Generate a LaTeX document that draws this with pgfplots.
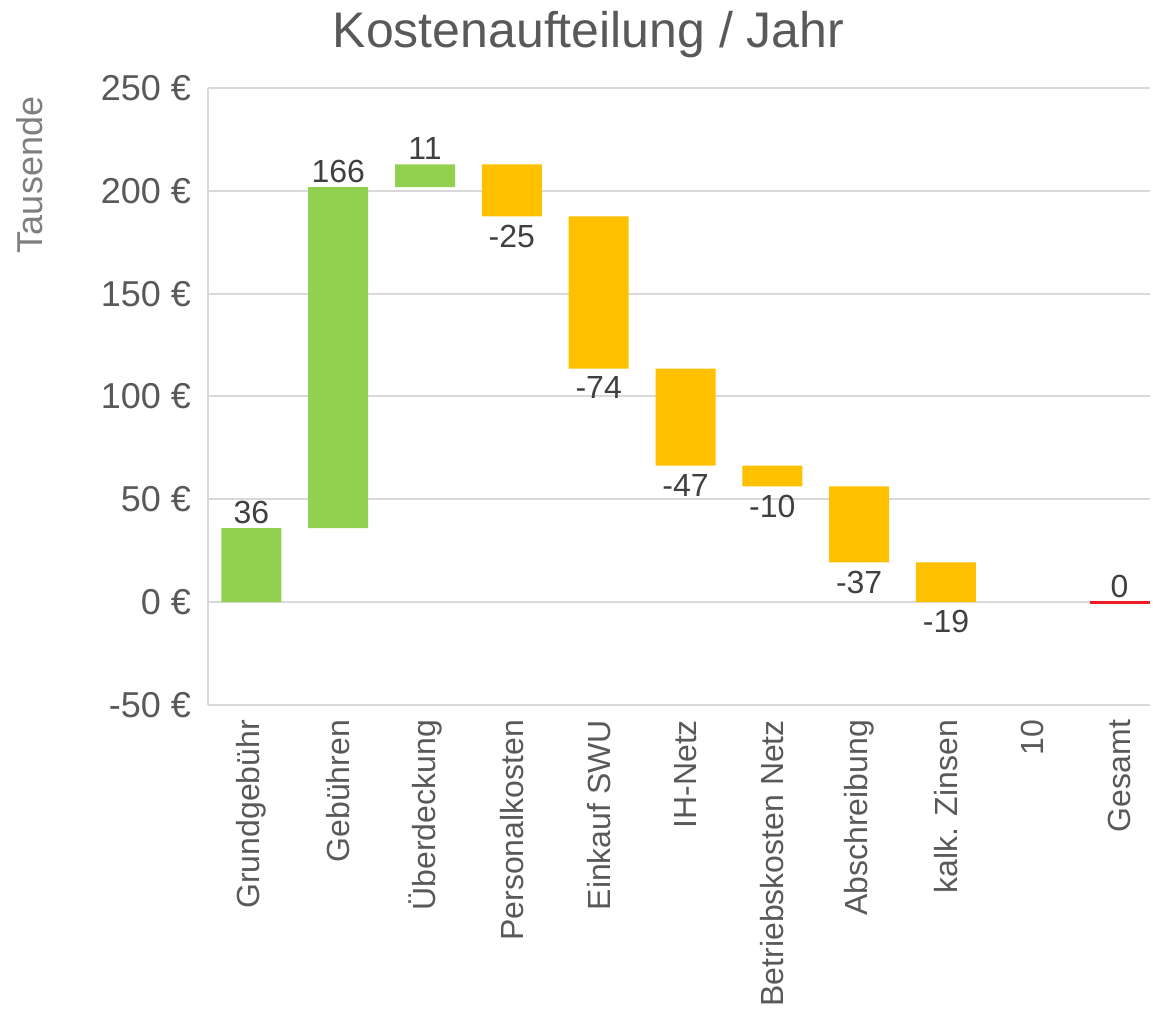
\documentclass[border=0pt]{standalone}
\usepackage{fontspec}
\setmainfont{Liberation Sans}
\usepackage{pgfplots}
\pgfplotsset{compat=1.18}
\definecolor{cgreen}{HTML}{92D050}
\definecolor{corange}{HTML}{FFC000}
\definecolor{cred}{HTML}{EE1C25}
\definecolor{txt}{HTML}{595959}
\definecolor{lbl}{HTML}{404040}
\definecolor{ylab}{HTML}{7F7F7F}
\definecolor{gridc}{HTML}{D9D9D9}
\pgfplotsset{wf/.style={width=471pt, height=308.5pt, scale only axis,
  xmin=-0.5, xmax=10.35, ymin=-50, ymax=250}}
\begin{document}
\begin{tikzpicture}
\begin{axis}[wf, name=ax,
  ybar stacked, bar width=30pt,
  axis lines=left, axis line style={draw=gridc, line width=1pt, -},
  ymajorgrids, grid style={draw=gridc, line width=1pt},
  ytick={-50,0,50,100,150,200,250},
  xtick={0,...,10},
  xticklabels={Grundgebühr, Gebühren, Überdeckung, Personalkosten, Einkauf SWU, IH-Netz, Betriebskosten Netz, Abschreibung, kalk. Zinsen, 10, Gesamt},
  x tick label style={rotate=90, anchor=east, font=\fontsize{16}{18}\selectfont, text=txt, xshift=-4pt},
  major tick length=0pt,
  /pgf/number format/assume math mode=true,
  yticklabel={\pgfmathprintnumber{\tick}~€},
  y tick label style={font=\fontsize{18}{20}\selectfont, text=txt, xshift=-5pt},
  ylabel={Tausende},
  every axis y label/.style={at={(rel axis cs:0,0.859)}, xshift=-89pt, rotate=90, anchor=center, font=\fontsize{18}{20}\selectfont, text=ylab},
  title={Kostenaufteilung / Jahr},
  every axis title/.style={at={(rel axis cs:0.404,1)}, anchor=base, yshift=20pt, font=\fontsize{25}{28}\selectfont, text=txt},
]
\addplot[draw=none, fill=none] coordinates {(0,0) (1,36.0) (2,201.8) (3,187.6) (4,113.6) (5,66.4) (6,56.3) (7,19.3) (8,0) (9,0) (10,0)};
\addplot[draw=none, fill=cgreen] coordinates {(0,36.0) (1,165.8) (2,11.1) (3,0) (4,0) (5,0) (6,0) (7,0) (8,0) (9,0) (10,0)};
\addplot[draw=none, fill=corange] coordinates {(0,0) (1,0) (2,0) (3,25.3) (4,74.0) (5,47.2) (6,10.1) (7,37.0) (8,19.3) (9,0) (10,0)};
\end{axis}
\begin{axis}[wf, hide axis]
\addplot[cred, line width=1.5pt] coordinates {(9.655,0) (10.345,0)};
\addplot[only marks, mark=*, mark size=0pt, mark options={draw=none, fill=none},
  nodes near coords, point meta=explicit symbolic,
  nodes near coords style={anchor=south, inner sep=2pt, font=\fontsize{16}{18}\selectfont, text=lbl}]
  table[meta=l] {
x y l
0 36.0 36
1 201.8 166
2 212.9 11
10 0 0
};
\addplot[only marks, mark=*, mark size=0pt, mark options={draw=none, fill=none},
  nodes near coords, point meta=explicit symbolic,
  nodes near coords style={anchor=north, inner sep=4pt, font=\fontsize{16}{18}\selectfont, text=lbl}]
  table[meta=l] {
x y l
3 187.6 -25
4 113.6 -74
5 66.4 -47
6 56.3 -10
7 19.3 -37
8 0 -19
};
\end{axis}
\pgfresetboundingbox
\useasboundingbox ([shift={(-104pt,-152pt)}]ax.south west) rectangle ([shift={(1.5pt,44pt)}]ax.north east);
\end{tikzpicture}
\end{document}
